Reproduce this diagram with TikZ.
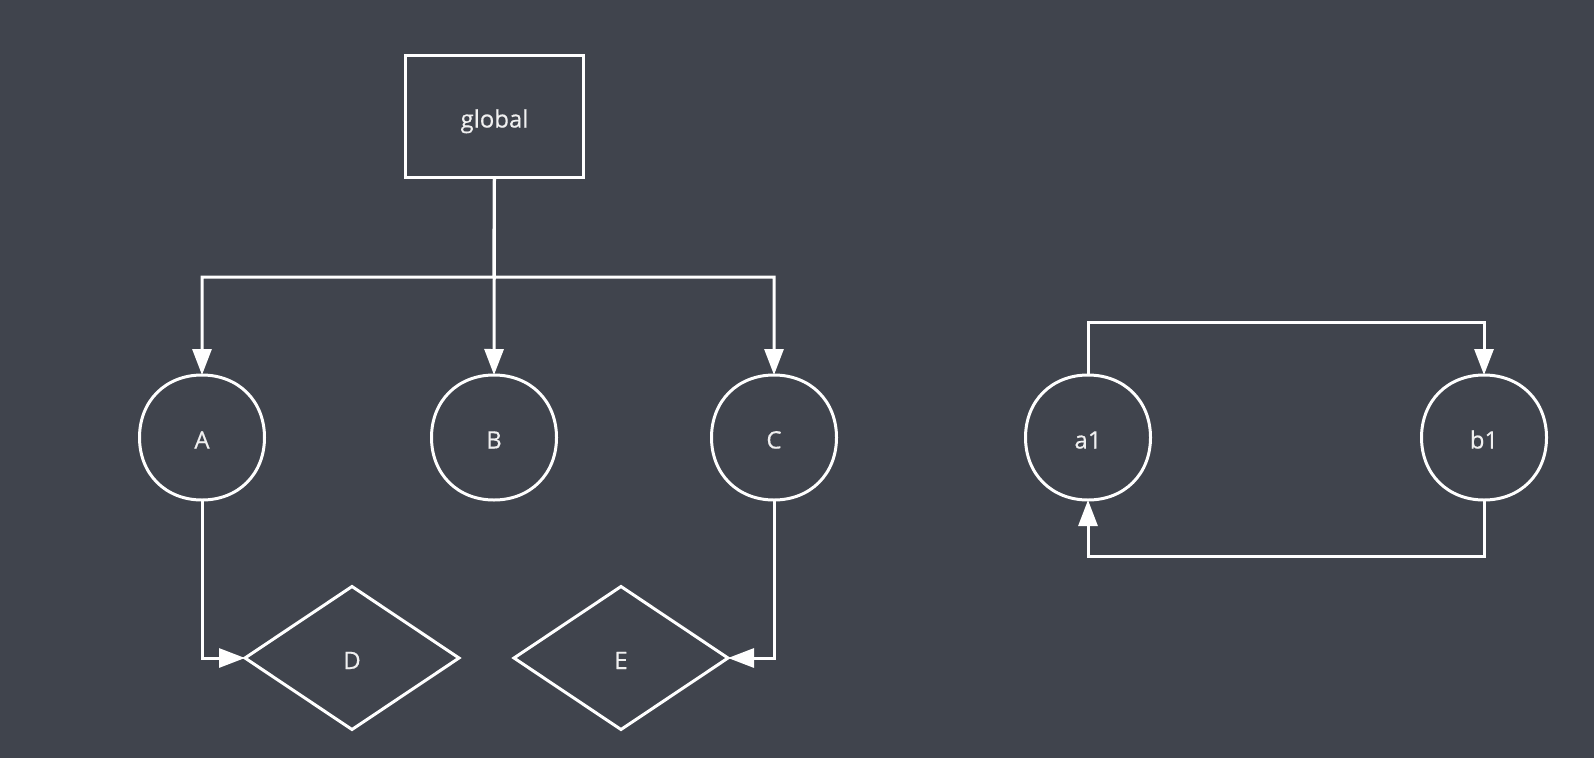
\documentclass[tikz,border=0pt]{standalone}
\usepackage{fontspec}
\setmainfont{Open Sans}
\newfontfamily\lblfont[FakeBold=0.5]{Open Sans}
\usetikzlibrary{arrows.meta,shapes.geometric,calc}
\definecolor{bg}{RGB}{64,68,77}
\definecolor{fg}{RGB}{255,255,255}
\definecolor{tx}{RGB}{240,240,240}
\begin{document}
\begin{tikzpicture}[x=1pt,y=-1pt,
  line/.style={draw=fg,line width=3pt},
  arr/.style={line,-{Triangle[length=26pt,width=19pt]}},
  lbl/.style={text=tx,font=\lblfont\fontsize{24}{28}\selectfont,text height=22pt,text depth=0pt},
  boxnode/.style={lbl,draw=fg,line width=3pt,rectangle,minimum width=178pt,minimum height=122pt,inner sep=0pt,outer sep=0pt},
  roundnode/.style={lbl,circle,minimum size=125pt,inner sep=0pt,outer sep=0pt},
  dianode/.style={lbl,draw=fg,line width=3pt,diamond,minimum width=214pt,minimum height=143pt,inner sep=0pt,outer sep=0pt}]
\fill[bg] (0,0) rectangle (1594,758);
\useasboundingbox (0,0) rectangle (1594,758);
\node[boxnode] (global) at (494.5,116.5) {global};
\node[roundnode] (A) at (202,437.5) {A};
\node[roundnode] (B) at (494,437.5) {B};
\node[roundnode] (C) at (774,437.5) {C};
\node[roundnode] (a1) at (1088,437.5) {a1};
\node[roundnode] (b1) at (1484,437.5) {b1};
\node[dianode] (D) at (352,658) {D};
\node[dianode] (E) at (621,658) {E};
\foreach \n in {A,B,C,a1,b1}{
  \draw[line] (\n.north) .. controls +(36.5,0) and +(0,-36.5) .. (\n.east)
    .. controls +(0,36.5) and +(36.5,0) .. (\n.south)
    .. controls +(-36.5,0) and +(0,36.5) .. (\n.west)
    .. controls +(0,-36.5) and +(-36.5,0) .. (\n.north) -- cycle;
}
\coordinate (bus) at (494,277);
\draw[arr] (global.south) -- (bus) -| (A.north);
\draw[arr] (global.south) -- (B.north);
\draw[arr] (global.south) -- (bus) -| (C.north);
\draw[arr] (A.south) |- (D.west);
\draw[arr] (C.south) |- (E.east);
\draw[arr] (a1.north) -- ++(0,-53) -| (b1.north);
\draw[arr] (b1.south) -- ++(0,56) -| (a1.south);
\end{tikzpicture}
\end{document}
